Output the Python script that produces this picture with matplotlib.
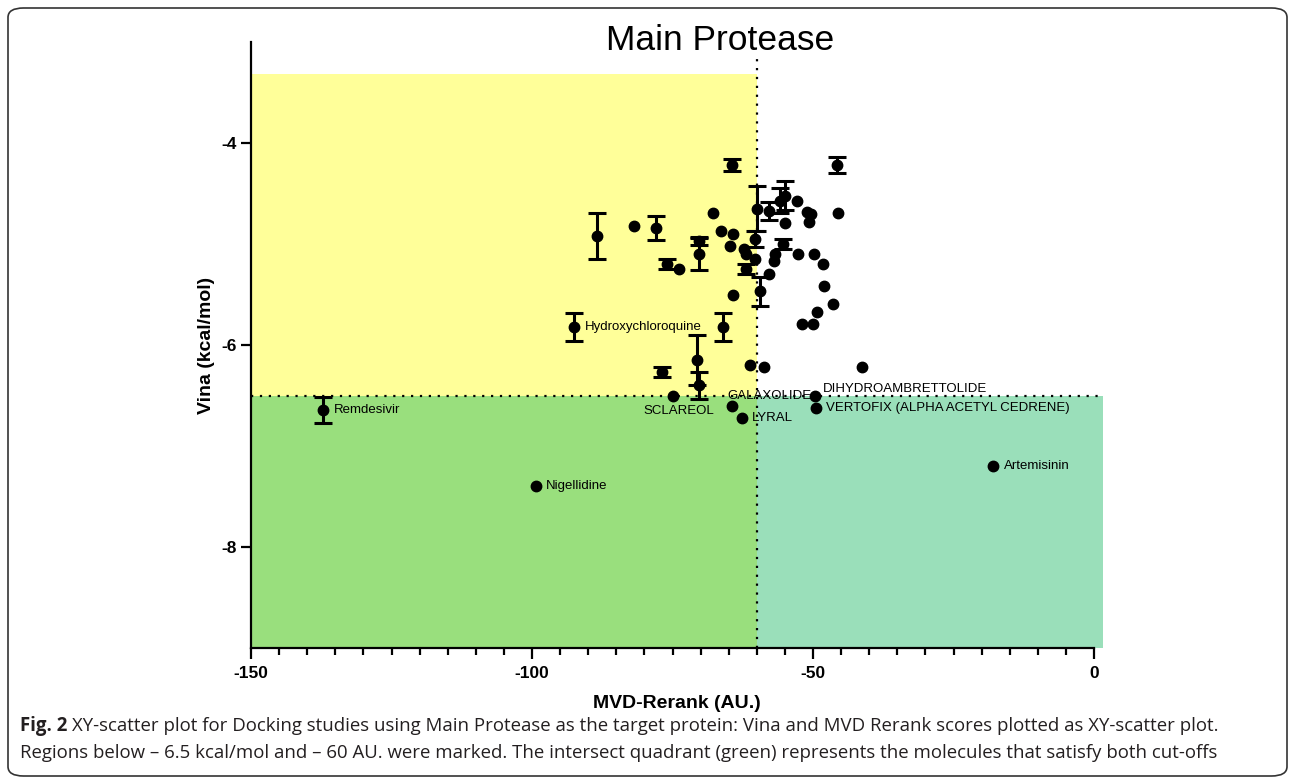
import numpy as np
import matplotlib
matplotlib.use('Agg')
import matplotlib.pyplot as plt
from matplotlib.patches import Rectangle, FancyBboxPatch

# docking scores, compounds without a name label
mvd = [-64.5, -45.8, -60.0, -57.9, -55.9, -55.0, -77.9, -88.5, -70.3, -70.3,
       -60.3, -55.3, -75.9, -61.9, -59.4, -66.1, -70.6, -70.3, -76.8,
       -52.9, -67.8, -51.0, -50.4, -50.8, -45.5, -55.0, -81.8, -66.4, -64.3,
       -64.8, -62.2, -61.9, -60.3, -56.8, -56.9, -52.6, -49.9, -48.2, -73.8,
       -57.8, -48.0, -64.2, -46.4, -49.3, -51.9, -50.05, -61.2, -58.8, -41.2]
vina = [-4.22, -4.22, -4.65, -4.67, -4.57, -4.52, -4.84, -4.92, -4.97, -5.10,
        -4.95, -5.00, -5.20, -5.25, -5.47, -5.82, -6.15, -6.40, -6.27,
        -4.57, -4.69, -4.68, -4.70, -4.78, -4.69, -4.79, -4.82, -4.87, -4.90,
        -5.02, -5.05, -5.10, -5.15, -5.10, -5.17, -5.10, -5.10, -5.20, -5.25,
        -5.30, -5.42, -5.50, -5.59, -5.67, -5.79, -5.79, -6.20, -6.22, -6.22]
vina_sd = [0.06, 0.08, 0.22, 0.09, 0.12, 0.14, 0.12, 0.23, 0.04, 0.16,
           0.08, 0.05, 0.05, 0.05, 0.14, 0.14, 0.25, 0.13, 0.05,
           0, 0, 0, 0, 0, 0, 0, 0, 0, 0,
           0, 0, 0, 0, 0, 0, 0, 0, 0, 0,
           0, 0, 0, 0, 0, 0, 0, 0, 0, 0]

# labelled compounds
names = ['Remdesivir', 'Hydroxychloroquine', 'Nigellidine', 'SCLAREOL',
         'GALAXOLIDE', 'LYRAL', 'DIHYDROAMBRETTOLIDE',
         'VERTOFIX (ALPHA ACETYL CEDRENE)', 'Artemisinin']
names_mvd = [-137.1, -92.6, -99.3, -75.0, -64.5, -62.7, -49.6, -49.5, -17.9]
names_vina = [-6.64, -5.82, -7.40, -6.50, -6.60, -6.72, -6.50, -6.62, -7.20]
names_sd = [0.13, 0.14, 0, 0, 0, 0, 0, 0, 0]

vina_cut = -6.5
mvd_cut = -60
xticks = [-150, -100, -50, 0]
xtick_labels = ['-150', '-100', '-50', '0']
yticks = [-8, -6, -4]
ytick_labels = ['-8', '-6', '-4']

# label placement (pixels from the dot)
name_offsets = [(10, 0), (11, 0), (10, 0), (6, -16), (-4, 10), (10, 0),
                (8, 7), (10, 0), (11, 0)]
name_align = ['left', 'left', 'left', 'center', 'left', 'left', 'left', 'left', 'left']

fig = plt.figure(figsize=(12.92, 7.84), dpi=100)
ax = fig.add_axes([251/1292, 1-648/784, (1103-251)/1292, 606/784])
ax.set_xlim(-150, 1.6)
ax.set_ylim(-9, -3)

# shaded regions
ax.add_patch(Rectangle((-150, vina_cut), 90, -3.32 - vina_cut, color='#FFFF99', lw=0, zorder=0))
ax.add_patch(Rectangle((-150, -9), 90, vina_cut + 9, color='#99DF7D', lw=0, zorder=0))
ax.add_patch(Rectangle((mvd_cut, -9), 61.6, vina_cut + 9, color='#9ADFBA', lw=0, zorder=0))

ax.plot([mvd_cut, mvd_cut], [-9, -3.12], color='black', ls=(0, (1, 3)), lw=1.6, zorder=1)
ax.plot([-150, 1.3], [vina_cut, vina_cut], color='black', ls=(0, (1, 3)), lw=1.6, zorder=1)

all_x = np.array(mvd + names_mvd)
all_y = np.array(vina + names_vina)
all_sd = np.array(vina_sd + names_sd)
has_sd = all_sd > 0
ax.errorbar(all_x[has_sd], all_y[has_sd], yerr=all_sd[has_sd], fmt='o', color='black',
            ms=7.5, elinewidth=2.2, capsize=6.5, capthick=2.2, zorder=3)
ax.plot(all_x[~has_sd], all_y[~has_sd], 'o', color='black', ms=7.5, zorder=3)

for i, n in enumerate(names):
    ax.annotate(n, (names_mvd[i], names_vina[i]), xytext=name_offsets[i],
                textcoords='offset pixels', ha=name_align[i], va='center',
                fontsize=9.5, family='Liberation Sans', zorder=4)

for s in ['top', 'right']:
    ax.spines[s].set_visible(False)
ax.spines['left'].set_linewidth(1.6)
ax.spines['bottom'].set_linewidth(1.6)
ax.spines['bottom'].set_bounds(-150, 0)

ax.set_xticks(xticks, labels=xtick_labels)
ax.set_xticks(np.arange(-150, 1, 5), minor=True)
ax.set_yticks(yticks, labels=ytick_labels)
ax.tick_params(axis='x', which='major', length=8, width=1.6, pad=5)
ax.tick_params(axis='x', which='minor', length=5, width=1.6)
ax.tick_params(axis='y', which='major', length=7, width=1.6, pad=3)
for lab in ax.get_xticklabels() + ax.get_yticklabels():
    lab.set_fontweight('bold')
    lab.set_fontsize(12.5)
    lab.set_family('Liberation Sans')

ax.set_xlabel('MVD-Rerank (AU.)', fontsize=14, fontweight='bold', family='Liberation Sans', labelpad=10)
ax.set_ylabel('Vina (kcal/mol)', fontsize=14, fontweight='bold', family='Liberation Sans', labelpad=5)

fig.text(720/1292, 1-41/784, 'Main Protease', fontsize=25.5, family='Liberation Sans',
         ha='center', va='center')

# caption
cap_kw = dict(fontsize=13.4, family='Open Sans', va='center', color='#231F20')
r = fig.canvas.get_renderer()
t1 = fig.text(20/1292, 1-726/784, 'Fig. 2', fontweight='bold', **cap_kw)
w = t1.get_window_extent(r).width
fig.text((20 + w + 5)/1292, 1-726/784,
         'XY-scatter plot for Docking studies using Main Protease as the target protein: '
         'Vina and MVD Rerank scores plotted as XY-scatter plot.', **cap_kw)
fig.text(20/1292, 1-753/784,
         'Regions below \u2013 6.5 kcal/mol and \u2013 60 AU. were marked. The intersect quadrant '
         '(green) represents the molecules that satisfy both cut-offs', **cap_kw)

fig.patches.append(FancyBboxPatch((8/1292, 8/784), 1279/1292, 768/784,
                                  boxstyle='round,pad=0,rounding_size=0.012',
                                  transform=fig.transFigure, fill=False,
                                  ec='#333333', lw=1.2))

fig.savefig('out.png', dpi=100)
